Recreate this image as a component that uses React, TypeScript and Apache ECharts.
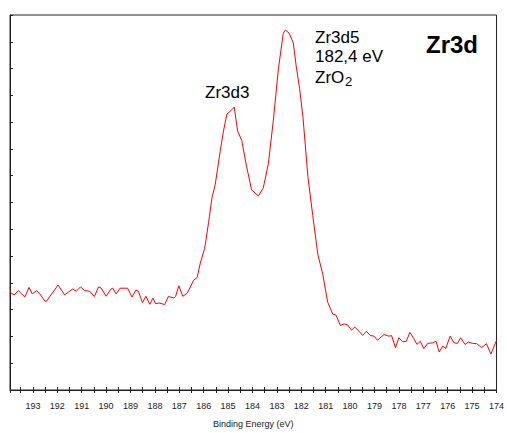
import React, { useEffect, useRef } from "react";
import * as echarts from "echarts";

const energies: number[] = [
  193.94, 193.77, 193.6, 193.33, 193.16, 193.03, 192.85, 192.72, 192.51, 192.44,
  191.97, 191.7, 191.38, 191.22, 191.05, 190.88, 190.68, 190.48, 190.31, 190.21,
  190.0, 189.8, 189.73, 189.59, 189.43, 189.12, 188.94, 188.78, 188.68, 188.51,
  188.37, 188.21, 188.08, 187.97, 187.83, 187.6, 187.45, 187.22, 187.15, 187.02,
  186.86, 186.68, 186.41, 186.27, 186.14, 185.96, 185.8, 185.66, 185.53, 185.32,
  185.19, 185.05, 184.85, 184.75, 184.61, 184.44, 184.24, 184.04, 183.76, 183.56,
  183.35, 183.15, 182.94, 182.74, 182.65, 182.5, 182.33, 182.21, 182.07, 181.93,
  181.73, 181.53, 181.32, 181.12, 180.92, 180.71, 180.58, 180.4, 180.24, 180.1,
  179.94, 179.81, 179.63, 179.49, 179.33, 179.18, 179.02, 178.88, 178.61, 178.41,
  178.3, 178.14, 178.0, 177.84, 177.7, 177.55, 177.39, 177.26, 177.12, 176.98,
  176.82, 176.62, 176.48, 176.35, 176.2, 176.08, 175.9, 175.74, 175.6, 175.47,
  175.29, 175.15, 174.98, 174.81, 174.61, 174.41, 174.23, 174.0,
];

const intensities: number[] = [
  3.65, 3.55, 3.71, 3.47, 3.83, 3.59, 3.71, 3.59, 3.32, 3.32,
  3.92, 3.55, 3.77, 3.69, 3.85, 3.71, 3.69, 3.49, 3.85, 3.81,
  3.5, 3.77, 3.8, 3.59, 3.8, 3.8, 3.47, 3.73, 3.69, 3.26,
  3.5, 3.2, 3.43, 3.22, 3.25, 3.19, 3.49, 3.44, 3.5, 3.89,
  3.5, 3.61, 4.1, 4.2, 4.74, 5.29, 6.26, 7.18, 7.66, 8.94,
  9.67, 10.3, 10.46, 10.56, 9.67, 9.31, 8.33, 7.48, 7.24, 7.54,
  8.45, 10.04, 11.98, 13.32, 13.44, 13.32, 12.96, 12.1, 11.25, 10.16,
  7.97, 6.51, 5.05, 4.32, 3.28, 2.83, 2.8, 2.41, 2.47, 2.43,
  2.23, 2.35, 2.19, 2.04, 2.19, 2.04, 2.01, 1.86, 2.07, 2.01,
  2.03, 1.58, 1.95, 1.8, 1.82, 2.15, 1.92, 1.7, 1.82, 1.54,
  1.74, 1.76, 1.82, 1.42, 1.64, 1.55, 2.01, 1.76, 1.74, 1.95,
  1.7, 1.79, 1.74, 1.73, 1.58, 1.73, 1.34, 1.85,
];

const xMin = 174;
const xMax = 193.94;
const yMin = 0;
const yMax = 14;

const axisTitle = "Binding Energy (eV)";
const panelTitle = "Zr3d";
const peak1Label = "Zr3d3";
const peak2Lines = ["Zr3d5", "182,4 eV"];
const oxideMain = "ZrO";
const oxideSub = "2";

const FONT = "'Liberation Sans', Arial, sans-serif";

export default function App() {
  const ref = useRef<HTMLDivElement>(null);
  useEffect(() => {
    if (!ref.current) return;
    const chart = echarts.init(ref.current, undefined, { renderer: "svg" });
    const data = energies.map((e, i) => [e, intensities[i]]);
    const commonX = {
      type: "value" as const,
      inverse: true,
      min: xMin,
      max: xMax,
      interval: 0.5,
      splitLine: { show: false },
    };
    chart.setOption({
      animation: false,
      backgroundColor: "#ffffff",
      grid: {
        left: 10,
        right: 6,
        top: 15,
        bottom: 34,
        show: true,
        borderColor: "#222",
        borderWidth: 1,
        backgroundColor: "transparent",
      },
      xAxis: [
        {
          ...commonX,
          position: "bottom",
          name: axisTitle,
          nameLocation: "middle",
          nameGap: 29,
          nameTextStyle: { fontFamily: FONT, fontSize: 9, color: "#222" },
          axisLine: { show: true, lineStyle: { color: "#222", width: 1 } },
          axisTick: { show: true, inside: false, length: 3, lineStyle: { color: "#222" } },
          axisLabel: {
            show: true,
            margin: 11,
            fontFamily: FONT,
            fontSize: 9,
            color: "#222",
            showMinLabel: true,
            showMaxLabel: true,
            formatter: (v: number) =>
              Math.abs(v - Math.round(v)) < 1e-6 ? String(Math.round(v)) : "",
          },
        },
        {
          ...commonX,
          position: "bottom",
          axisLine: { show: false },
          axisTick: { show: true, inside: true, length: 3, lineStyle: { color: "#222" } },
          axisLabel: { show: false },
        },
      ],
      yAxis: {
        type: "value",
        min: yMin,
        max: yMax,
        interval: 1,
        axisLine: { show: true, lineStyle: { color: "#222", width: 1 } },
        axisTick: { show: true, inside: true, length: 3, lineStyle: { color: "#222" } },
        axisLabel: { show: false },
        splitLine: { show: false },
      },
      series: [
        {
          type: "line",
          xAxisIndex: 0,
          data,
          showSymbol: false,
          symbol: "none",
          lineStyle: { color: "#ff0000", width: 1 },
          silent: true,
        },
      ],
      graphic: [
        {
          type: "text",
          left: 205,
          top: 84,
          style: { text: peak1Label, fontFamily: FONT, fontSize: 17, fill: "#000" },
        },
        {
          type: "text",
          left: 315,
          top: 29,
          style: { text: peak2Lines[0], fontFamily: FONT, fontSize: 17, fill: "#000" },
        },
        {
          type: "text",
          left: 315,
          top: 48,
          style: { text: peak2Lines[1], fontFamily: FONT, fontSize: 17, fill: "#000" },
        },
        {
          type: "text",
          left: 315,
          top: 69,
          style: { text: oxideMain, fontFamily: FONT, fontSize: 17, fill: "#000" },
        },
        {
          type: "text",
          left: 345,
          top: 75,
          style: { text: oxideSub, fontFamily: FONT, fontSize: 13, fill: "#000" },
        },
        {
          type: "text",
          left: 426,
          top: 32,
          style: {
            text: panelTitle,
            fontFamily: FONT,
            fontSize: 24,
            fontWeight: "bold",
            fill: "#000",
          },
        },
      ],
    });
    return () => chart.dispose();
  }, []);
  return (
    <div
      ref={ref}
      style={{ position: "absolute", left: 0, top: 0, width: 507, height: 433 }}
    />
  );
}
